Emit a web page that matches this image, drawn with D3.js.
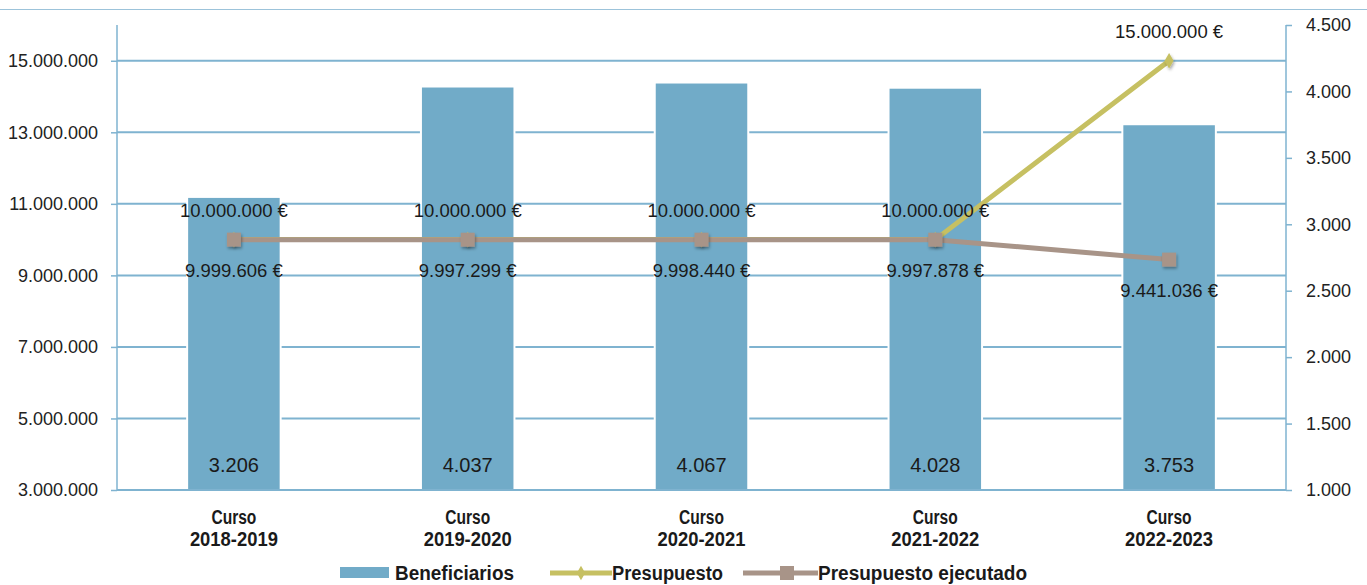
<html>
<head>
<script src="https://d3js.org/d3.v7.min.js"></script>
<style>
body { margin: 0; background: #fff; }
text { font-family: "Liberation Sans", Arial, sans-serif; fill: #1a1a1a; }
</style>
</head>
<body>
<svg width="1367" height="585"></svg>
<script>
// categories
var cursos = ["Curso 2018-2019", "Curso 2019-2020", "Curso 2020-2021", "Curso 2021-2022", "Curso 2022-2023"];
// beneficiarios (right axis)
var beneficiarios = [3206, 4037, 4067, 4028, 3753];
// presupuesto and presupuesto ejecutado (left axis)
var presupuesto = [10000000, 10000000, 10000000, 10000000, 15000000];
var ejecutado = [9999606, 9997299, 9998440, 9997878, 9441036];
// tick values
var leftTicks = [3000000, 5000000, 7000000, 9000000, 11000000, 13000000, 15000000];
var rightTicks = [1000, 1500, 2000, 2500, 3000, 3500, 4000, 4500];

var fmt = d3.formatLocale({decimal: ",", thousands: ".", grouping: [3], currency: ["", " €"]});
var num = fmt.format(",.0f");

var svg = d3.select("svg");
var mLeft = 117, mRight = 1286, mTop = 25, mBottom = 490;
var axisColor = "#7fb3d0", barColor = "#71abc8", presColor = "#c6c062", ejeColor = "#a89488";

var x = d3.scaleBand().domain(cursos).range([mLeft, mRight]);
var yL = d3.scaleLinear().domain([3000000, 16000000]).range([mBottom, mTop]);
var yR = d3.scaleLinear().domain([1000, 4500]).range([mBottom, mTop]);

// top border line
svg.append("line").attr("x1", 0).attr("x2", 1367).attr("y1", 9.5).attr("y2", 9.5)
  .attr("stroke", "#9cc3da").attr("stroke-width", 1);

// shadow filter
var defs = svg.append("defs");
var f = defs.append("filter").attr("id", "sh").attr("x", "-50%").attr("y", "-50%").attr("width", "200%").attr("height", "200%");
f.append("feDropShadow").attr("dx", 1).attr("dy", 2).attr("stdDeviation", 1.5).attr("flood-color", "#000").attr("flood-opacity", 0.35);

// gridlines
svg.append("g").selectAll("line").data(leftTicks).enter().append("line")
  .attr("x1", mLeft).attr("x2", mRight)
  .attr("y1", function(d) { return yL(d); }).attr("y2", function(d) { return yL(d); })
  .attr("stroke", axisColor).attr("stroke-width", 2);

// left axis
var gl = svg.append("g").attr("transform", "translate(" + mLeft + ",0)")
  .call(d3.axisLeft(yL).tickValues(leftTicks).tickFormat(num).tickSize(6).tickPadding(13));
gl.select(".domain").remove();
gl.selectAll(".tick line").attr("stroke", axisColor).attr("stroke-width", 1.5);
gl.selectAll(".tick text").style("font-size", "18px").style("fill", "#222").attr("font-family", null);
svg.append("line").attr("x1", mLeft).attr("x2", mLeft).attr("y1", mTop).attr("y2", mBottom)
  .attr("stroke", axisColor).attr("stroke-width", 1.5);

// right axis
var gr = svg.append("g").attr("transform", "translate(" + mRight + ",0)")
  .call(d3.axisRight(yR).tickValues(rightTicks).tickFormat(num).tickSize(6).tickPadding(14));
gr.select(".domain").remove();
gr.selectAll(".tick line").attr("stroke", axisColor).attr("stroke-width", 1.5);
gr.selectAll(".tick text").style("font-size", "18px").style("fill", "#222").attr("font-family", null);
svg.append("line").attr("x1", mRight).attr("x2", mRight).attr("y1", mTop).attr("y2", mBottom)
  .attr("stroke", axisColor).attr("stroke-width", 1.5);

// bars
var bw = x.bandwidth() * 0.4;
svg.append("g").selectAll("rect").data(beneficiarios).enter().append("rect")
  .attr("x", function(d, i) { return x(cursos[i]) + x.bandwidth() / 2 - bw / 2; })
  .attr("y", function(d) { return yR(d); })
  .attr("width", bw)
  .attr("height", function(d) { return mBottom - yR(d); })
  .attr("fill", barColor).attr("stroke", "#fff").attr("stroke-width", 2);

// bottom axis line
svg.append("line").attr("x1", mLeft).attr("x2", mRight).attr("y1", mBottom).attr("y2", mBottom)
  .attr("stroke", axisColor).attr("stroke-width", 2);

// bar labels
svg.append("g").selectAll("text").data(beneficiarios).enter().append("text")
  .attr("x", function(d, i) { return x(cursos[i]) + x.bandwidth() / 2; })
  .attr("y", 472).attr("text-anchor", "middle").style("font-size", "20px")
  .text(function(d) { return num(d); });

// lines
var cx = function(d, i) { return x(cursos[i]) + x.bandwidth() / 2; };
var lineGen = d3.line().x(cx).y(function(d) { return yL(d); });
svg.append("path").datum(presupuesto).attr("d", lineGen)
  .attr("fill", "none").attr("stroke", presColor).attr("stroke-width", 5);
svg.append("g").selectAll("path").data(presupuesto).enter().append("path")
  .attr("d", d3.symbol().type(d3.symbolDiamond).size(70))
  .attr("transform", function(d, i) { return "translate(" + cx(d, i) + "," + yL(d) + ")"; })
  .attr("fill", presColor).attr("filter", "url(#sh)");

svg.append("path").datum(ejecutado).attr("d", lineGen)
  .attr("fill", "none").attr("stroke", ejeColor).attr("stroke-width", 5);
svg.append("g").selectAll("rect").data(ejecutado).enter().append("rect")
  .attr("x", function(d, i) { return cx(d, i) - 7; })
  .attr("y", function(d) { return yL(d) - 7; })
  .attr("width", 14).attr("height", 14)
  .attr("fill", ejeColor).attr("filter", "url(#sh)");

// line labels
svg.append("g").selectAll("text").data(presupuesto).enter().append("text")
  .attr("x", cx)
  .attr("y", function(d) { return yL(d) - 23; })
  .attr("text-anchor", "middle").style("font-size", "18.5px")
  .text(function(d) { return num(d) + " €"; });
svg.append("g").selectAll("text").data(ejecutado).enter().append("text")
  .attr("x", cx)
  .attr("y", function(d) { return yL(d) + 37; })
  .attr("text-anchor", "middle").style("font-size", "18.5px")
  .text(function(d) { return num(d) + " €"; });

// category labels
var cat = svg.append("g").selectAll("text").data(cursos).enter().append("text")
  .attr("x", function(d) { return x(d) + x.bandwidth() / 2; })
  .attr("y", 524).attr("text-anchor", "middle")
  .style("font-size", "20px").style("font-weight", "bold");
cat.append("tspan").attr("x", function(d) { return x(d) + x.bandwidth() / 2; })
  .attr("textLength", 45).attr("lengthAdjust", "spacingAndGlyphs")
  .text(function(d) { return d.split(" ")[0]; });
cat.append("tspan").attr("x", function(d) { return x(d) + x.bandwidth() / 2; }).attr("dy", 22)
  .attr("textLength", 88).attr("lengthAdjust", "spacingAndGlyphs")
  .text(function(d) { return d.split(" ")[1]; });

// legend
var lg = svg.append("g");
lg.append("rect").attr("x", 340).attr("y", 567).attr("width", 49).attr("height", 11).attr("fill", barColor);
lg.append("text").attr("x", 395).attr("y", 580).style("font-size", "20px").style("font-weight", "bold")
  .attr("textLength", 119).attr("lengthAdjust", "spacingAndGlyphs").text("Beneficiarios");
lg.append("line").attr("x1", 550).attr("x2", 612).attr("y1", 573).attr("y2", 573).attr("stroke", presColor).attr("stroke-width", 5);
lg.append("path").attr("d", d3.symbol().type(d3.symbolDiamond).size(60)).attr("transform", "translate(581,573)").attr("fill", presColor);
lg.append("text").attr("x", 612).attr("y", 580).style("font-size", "20px").style("font-weight", "bold")
  .attr("textLength", 111).attr("lengthAdjust", "spacingAndGlyphs").text("Presupuesto");
lg.append("line").attr("x1", 743).attr("x2", 818).attr("y1", 573).attr("y2", 573).attr("stroke", ejeColor).attr("stroke-width", 5);
lg.append("rect").attr("x", 780).attr("y", 566).attr("width", 14).attr("height", 14).attr("fill", ejeColor);
lg.append("text").attr("x", 818).attr("y", 580).style("font-size", "20px").style("font-weight", "bold")
  .attr("textLength", 209).attr("lengthAdjust", "spacingAndGlyphs").text("Presupuesto ejecutado");
</script>
</body>
</html>
